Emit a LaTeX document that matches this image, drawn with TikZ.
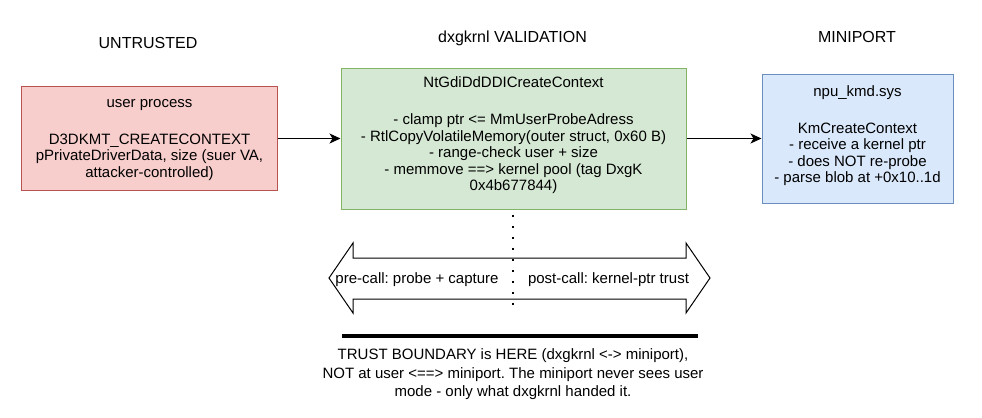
\documentclass[tikz,border=0pt]{standalone}
\usepackage{fontspec}
\setmainfont{Liberation Sans}
\usetikzlibrary{arrows.meta}
\definecolor{redfill}{HTML}{F8CECC}
\definecolor{redline}{HTML}{B85450}
\definecolor{greenfill}{HTML}{D5E8D4}
\definecolor{greenline}{HTML}{82B366}
\definecolor{bluefill}{HTML}{DAE8FC}
\definecolor{blueline}{HTML}{6C8EBF}
\begin{document}
\frenchspacing
\begin{tikzpicture}[x=1bp,y=-1bp,
  boxshape/.style={draw, line width=1bp, inner sep=0},
  txt/.style={font=\fontsize{15bp}{16.5bp}\selectfont, align=center, inner sep=0},
  head/.style={font=\fontsize{16bp}{19bp}\selectfont, inner sep=0, anchor=base},
  arr/.style={-{Stealth[length=11bp,width=10bp,inset=3bp]}, line width=1bp}]
\useasboundingbox (0,0) rectangle (982,417);

% headers
\node[head] (h1) at (148,48) {UNTRUSTED};
\node[head] (h2) at (512.5,42) {dxgkrnl VALIDATION};
\node[head] (h3) at (857,42) {MINIPORT};

% boxes
\node[boxshape, draw=redline, fill=redfill, minimum width=255bp, minimum height=104bp] (user) at (149.5,138.5) {};
\node[txt] (usert) at (149.5,140) {user process\\[20.5bp]D3DKMT\_CREATECONTEXT\\pPrivateDriverData, size (suer VA,\\attacker-controlled)};

\node[boxshape, draw=greenline, fill=greenfill, minimum width=345bp, minimum height=141bp] (val) at (513.5,138.5) {};
\node[txt] (valt) at (513.5,135.5) {NtGdiDdDDICreateContext\\[20.5bp]- clamp ptr <= MmUserProbeAdress\\- RtlCopyVolatileMemory(outer struct, 0x60 B)\\- range-check user + size\\- memmove ==> kernel pool (tag DxgK\\0x4b677844)};

\node[boxshape, draw=blueline, fill=bluefill, minimum width=191bp, minimum height=129bp] (mini) at (857.5,138.5) {};
\node[txt] (minit) at (857.5,135.6) {npu\_kmd.sys\\[20.5bp]KmCreateContext\\- receive a kernel ptr\\- does NOT re-probe\\- parse blob at +0x10..1d};

% connectors
\draw[arr] (user.east) -- (val.west);
\draw[arr] (val.east) -- (mini.west);

% double arrow
\draw[line width=1bp, fill=white] (329,278) -- (353,243) -- (353,258) -- (686,258) -- (686,243) -- (710,278) -- (686,313) -- (686,299) -- (353,299) -- (353,313) -- cycle;
\node[txt, anchor=base] (pre) at (417,283) {pre-call: probe + capture};
\node[txt, anchor=base] (post) at (608.5,283) {post-call: kernel-ptr trust};

% dotted divider
\coordinate (dotend) at (513,311);
\draw[line width=2.5bp, dash pattern=on 2.5bp off 8.5bp, dash phase=-5bp] (val.south -| dotend) -- (dotend);

% trust boundary
\coordinate (bl) at (342,336);
\coordinate (br) at (698,336);
\draw[line width=4bp] (bl) -- (br);
\node[txt, font=\fontsize{15bp}{18.5bp}\selectfont] (note) at (513,374.5) {TRUST BOUNDARY is HERE (dxgkrnl <-> miniport),\\NOT at user <==> miniport. The miniport never sees user\\mode - only what dxgkrnl handed it.};
\end{tikzpicture}
\end{document}
